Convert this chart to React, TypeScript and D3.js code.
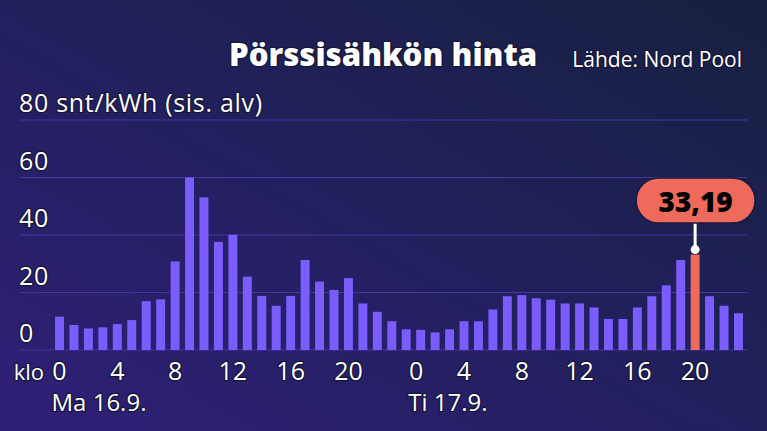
import React, { useEffect } from 'react'
import * as d3 from 'd3'

// hourly spot prices, snt/kWh (incl. VAT)
const hours = [0, 1, 2, 3, 4, 5, 6, 7, 8, 9, 10, 11, 12, 13, 14, 15, 16, 17, 18, 19, 20, 21, 22, 23]
const days = ['Ma 16.9.', 'Ti 17.9.']
const day1Prices = [11.6, 8.7, 7.5, 7.9, 9.0, 10.4, 17.0, 17.6, 30.8, 60.0, 53.1, 37.6, 40.1, 25.5, 18.8, 15.4, 18.8, 31.3, 23.8, 20.9, 25.0, 16.2, 13.3, 10.0]
const day2Prices = [7.2, 7.0, 6.1, 7.2, 10.0, 10.0, 14.1, 18.7, 19.1, 18.0, 17.5, 16.2, 16.2, 14.8, 10.8, 10.8, 14.8, 18.7, 22.5, 31.3, 33.19, 18.7, 15.4, 12.8]
const tickHours = [0, 4, 8, 12, 16, 20]
const yTicks = [0, 20, 40, 60, 80]
const highlight = { day: 1, hour: 20 }

const W = 767
const H = 431
const FONT = '"Open Sans", sans-serif'

interface Bar {
  key: string
  day: number
  hour: number
  value: number
}

const bars: Bar[] = [day1Prices, day2Prices].flatMap((prices, d) =>
  prices.map((v, i) => ({ key: `${d}-${hours[i]}`, day: d, hour: hours[i], value: v }))
)

const x = d3.scaleBand<string>()
  .domain(bars.map(b => b.key))
  .range([52.3, 745.7])
  .paddingInner(0.38)
  .paddingOuter(0.19)

const y = d3.scaleLinear().domain([0, 80]).range([350, 120])

const cx = (b: Bar) => (x(b.key) || 0) + x.bandwidth() / 2

const textShadow = { stroke: '#15163a', strokeWidth: 2.5, paintOrder: 'stroke' as const, strokeLinejoin: 'round' as const }

export default function App() {
  useEffect(() => {
    document.body.style.margin = '0'
  }, [])

  const hl = bars.find(b => b.day === highlight.day && b.hour === highlight.hour)!
  const hlX = cx(hl)
  const hlTop = y(hl.value)
  const label = hl.value.toFixed(2).replace('.', ',')

  return (
    <svg width={W} height={H} style={{ display: 'block', fontFamily: FONT }}>
      <defs>
        <linearGradient id="bg" x1="1" y1="0" x2="0" y2="1">
          <stop offset="0%" stopColor="#17203f" />
          <stop offset="45%" stopColor="#20205a" />
          <stop offset="100%" stopColor="#301f78" />
        </linearGradient>
      </defs>
      <rect width={W} height={H} fill="url(#bg)" />

      {/* header */}
      <text x={229} y={66} fill="#fff" fontSize={31.2} fontWeight={800} {...textShadow}>Pörssisähkön hinta</text>
      <text x={742} y={67} fill="#fff" fontSize={21} textAnchor="end" {...textShadow}>Lähde: Nord Pool</text>

      {/* grid + y labels */}
      {yTicks.map(t => (
        <g key={t}>
          <line x1={20} x2={747} y1={y(t)} y2={y(t)} stroke="#4536a0" strokeWidth={1.2} />
          <text x={19} y={y(t) - 8} fill="#fff" fontSize={25} fontWeight={500} letterSpacing={0.7} {...textShadow}>
            {t === 80 ? '80 snt/kWh (sis. alv)' : t}
          </text>
        </g>
      ))}

      {/* bars */}
      {bars.map(b => (
        <rect
          key={b.key}
          x={x(b.key)}
          y={y(b.value)}
          width={x.bandwidth()}
          height={y(0) - y(b.value)}
          fill={b === hl ? '#ef6a5a' : '#7a5cff'}
        />
      ))}

      {/* x axis labels */}
      <text x={44} y={380} fill="#fff" fontSize={22} textAnchor="end" {...textShadow}>klo</text>
      {days.map((d, di) => {
        const first = bars.find(b => b.day === di && b.hour === 0)!
        const dx = di === 0 ? 0 : 10
        return (
          <g key={d}>
            {tickHours.map(h => {
              const b = bars.find(bb => bb.day === di && bb.hour === h)!
              return (
                <text key={h} x={cx(b) + (h === 0 ? dx : 0)} y={380} fill="#fff" fontSize={25} fontWeight={500} textAnchor="middle" {...textShadow}>
                  {h}
                </text>
              )
            })}
            <text x={cx(first) + dx - 8} y={411} fill="#fff" fontSize={24} fontWeight={500} {...textShadow}>{d}</text>
          </g>
        )
      })}

      {/* callout */}
      <line x1={hlX} x2={hlX} y1={222} y2={hlTop - 5} stroke="#fff" strokeWidth={3} />
      <circle cx={hlX} cy={hlTop - 5} r={4.5} fill="#fff" />
      <rect x={hlX - 59} y={178} width={119} height={45} rx={22.5} fill="#ef6a5a" stroke="#1a1740" strokeWidth={1.5} />
      <text x={hlX + 0.5} y={211.5} fill="#000" fontSize={28} fontWeight={800} textAnchor="middle">{label}</text>
    </svg>
  )
}
